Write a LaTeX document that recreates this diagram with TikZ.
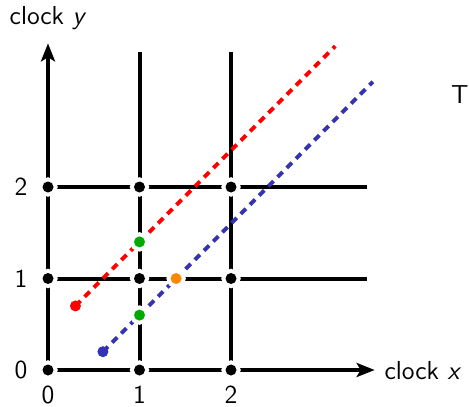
\documentclass[tikz,border=0pt]{standalone}
\usetikzlibrary{arrows.meta}
\definecolor{myblue}{RGB}{51,51,179}
\definecolor{mygreen}{RGB}{0,170,0}
\definecolor{myorange}{RGB}{255,136,0}
\begin{document}
\begin{tikzpicture}[x=45.75pt,y=45.75pt,
  font=\sffamily\fontsize{13}{15}\selectfont,
  gridline/.style={line width=2pt, black},
  axisline/.style={line width=2pt, black, -{Stealth[length=9pt,width=7pt,inset=2pt]}},
  ringdot/.style={circle, inner sep=0pt, outer sep=0pt, minimum size=5.5pt, fill=#1,
    preaction={draw=white, line width=4pt}},
  enddot/.style={circle, inner sep=0pt, outer sep=0pt, minimum size=5.5pt, fill=#1},
  traj/.style={line width=2pt, dash pattern=on 3.6pt off 2.9pt},
  lbl/.style={inner sep=0pt}]
\useasboundingbox (-0.5246,-0.3934) rectangle (4.6011,4.0437);
% line ends
\coordinate (o) at (0,0);
\coordinate (xend) at (3.57,0);
\coordinate (yend) at (0,3.57);
\coordinate (v1b) at (1,0); \coordinate (v1t) at (1,3.48);
\coordinate (v2b) at (2,0); \coordinate (v2t) at (2,3.48);
\coordinate (h1l) at (0,1); \coordinate (h1r) at (3.49,1);
\coordinate (h2l) at (0,2); \coordinate (h2r) at (3.49,2);
% grid
\draw[gridline] (v1b) -- (v1t);
\draw[gridline] (v2b) -- (v2t);
\draw[gridline] (h1l) -- (h1r);
\draw[gridline] (h2l) -- (h2r);
% axes
\draw[axisline] (o) -- (xend);
\draw[axisline] (o) -- (yend);
\node[lbl, anchor=west] (xlab) at (3.675,-0.01) {clock \textit{x}};
\node[lbl] (ylab) at (0,3.85) {clock \textit{y}};
% tick labels
\node[lbl] (ly0) at (-0.295,0) {0};
\node[lbl] (ly1) at (-0.295,1) {1};
\node[lbl] (ly2) at (-0.295,2) {2};
\node[lbl] (lx0) at (0,-0.27) {0};
\node[lbl] (lx1) at (1,-0.27) {1};
\node[lbl] (lx2) at (2,-0.27) {2};
\node[lbl] (tlab) at (4.50,3.01) {T};
% trajectories
\node[enddot=red] (rs) at (0.3,0.7) {};
\coordinate (re) at (3.14,3.54);
\node[enddot=myblue] (bs) at (0.6,0.2) {};
\coordinate (be) at (3.55,3.15);
\draw[traj, red] (rs.center) -- (re);
\draw[traj, myblue] (bs.center) -- (be);
% grid dots
\foreach \i in {0,1,2}{
  \foreach \j in {0,1,2}{
    \node[ringdot=black] (d\i\j) at (\i,\j) {};
  }
}
% event dots
\node[ringdot=mygreen] (g1) at (1,1.4) {};
\node[ringdot=mygreen] (g2) at (1,0.6) {};
\node[ringdot=myorange] (or) at (1.4,1) {};
\end{tikzpicture}
\end{document}
